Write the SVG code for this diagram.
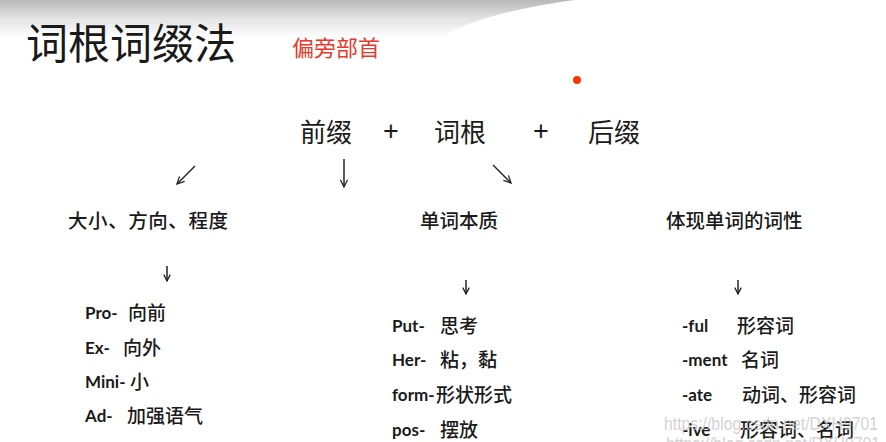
<svg xmlns="http://www.w3.org/2000/svg" width="886" height="442" viewBox="0 0 886 442">
<defs>
<linearGradient id="topg" x1="0" y1="0" x2="0" y2="1">
<stop offset="0" stop-color="#b9b9b9"/>
<stop offset="0.5" stop-color="#e4e4e4"/>
<stop offset="1" stop-color="#ffffff"/>
</linearGradient>
<marker id="vh" viewBox="0 0 10 10" refX="9" refY="5" markerWidth="8" markerHeight="8" markerUnits="userSpaceOnUse" orient="auto">
<path d="M1,1 L9,5 L1,9" fill="none" stroke="#222" stroke-width="1.6"/>
</marker>
<marker id="vb" viewBox="0 0 10 10" refX="9" refY="5" markerWidth="9" markerHeight="9" markerUnits="userSpaceOnUse" orient="auto">
<path d="M1,1 L9,5 L1,9" fill="none" stroke="#222" stroke-width="1.4"/>
</marker>
</defs>
<style>
.cjk{font-family:"Noto Sans CJK SC","Noto Sans",sans-serif;fill:#1a1a1a}
.plus{font-family:"Liberation Sans",sans-serif;font-size:27px;fill:#1a1a1a}
.head{font-family:"Noto Sans CJK SC",sans-serif;font-size:19.5px;font-weight:500;fill:#1a1a1a}
.lat{font-family:Lato,"Liberation Sans",sans-serif;font-size:17px;font-weight:700;fill:#1a1a1a}
.zh{font-family:"Noto Sans CJK SC",sans-serif;font-size:19px;font-weight:500;fill:#1a1a1a}
.arr{stroke:#222;stroke-width:1.5;fill:none}
.wm{font-family:"Liberation Sans",sans-serif;font-size:18px;fill:#c4c4c4;fill-opacity:0.75}
</style>
<rect x="0" y="0" width="886" height="442" fill="#ffffff"/>
<path d="M0,0 H575 C530,6 470,18 440,38 L0,38 Z" fill="url(#topg)"/>
<circle cx="577" cy="80" r="4" fill="#ff3300"/>

<g id="title">
<text x="26" y="59" class="cjk" font-size="42">词根词缀法</text>
<text x="292" y="56" font-family="'Noto Sans CJK SC',sans-serif" font-size="22" fill="#e8392a">偏旁部首</text>
</g>

<g id="formula">
<text x="300" y="142" class="cjk" font-size="26">前缀</text>
<text x="383" y="140" class="plus">+</text>
<text x="434" y="142" class="cjk" font-size="26">词根</text>
<text x="533" y="140" class="plus">+</text>
<text x="588" y="142" class="cjk" font-size="26">后缀</text>
</g>

<g id="connectors">
<line x1="195" y1="166" x2="177" y2="184" class="arr" stroke-width="1.6" marker-end="url(#vb)"/>
<line x1="344" y1="159" x2="344" y2="187" class="arr" stroke-width="1.8" marker-end="url(#vb)"/>
<line x1="493" y1="165" x2="511" y2="183" class="arr" stroke-width="1.6" marker-end="url(#vb)"/>
<line x1="167" y1="266" x2="167" y2="281" class="arr" marker-end="url(#vh)"/>
<line x1="466" y1="280" x2="466" y2="294" class="arr" marker-end="url(#vh)"/>
<line x1="738" y1="280" x2="738" y2="294" class="arr" marker-end="url(#vh)"/>
</g>

<g id="prefix">
<text x="68" y="228" class="head" textLength="160">大小、方向、程度</text>
<text x="85" y="319" class="lat">Pro-</text><text x="128" y="320" class="zh">向前</text>
<text x="85" y="354" class="lat">Ex-</text><text x="123" y="355" class="zh">向外</text>
<text x="85" y="388" class="lat">Mini-</text><text x="130" y="389" class="zh">小</text>
<text x="85" y="422" class="lat">Ad-</text><text x="127" y="423" class="zh">加强语气</text>
</g>

<g id="root">
<text x="420" y="228" class="head">单词本质</text>
<text x="392" y="332" class="lat">Put-</text><text x="440" y="333" class="zh">思考</text>
<text x="392" y="366" class="lat">Her-</text><text x="440" y="367" class="zh">粘，黏</text>
<text x="392" y="401" class="lat">form-</text><text x="436" y="402" class="zh">形状形式</text>
<text x="392" y="436" class="lat">pos-</text><text x="440" y="437" class="zh">摆放</text>
</g>

<g id="suffix">
<text x="666" y="228" class="head">体现单词的词性</text>
<text x="682" y="332" class="lat">-ful</text><text x="737" y="333" class="zh">形容词</text>
<text x="682" y="366" class="lat">-ment</text><text x="741" y="367" class="zh">名词</text>
<text x="682" y="401" class="lat">-ate</text><text x="742" y="402" class="zh">动词、形容词</text>
<text x="682" y="436" class="lat">-ive</text><text x="740" y="437" class="zh">形容词、名词</text>
</g>

<g id="watermark">
<text x="664" y="430" class="wm" textLength="214" lengthAdjust="spacingAndGlyphs">https://blog.csdn.net/DXH9701</text>
<text x="666" y="450" class="wm" textLength="214" lengthAdjust="spacingAndGlyphs">https://blog.csdn.net/DXH9701</text>
</g>
</svg>
